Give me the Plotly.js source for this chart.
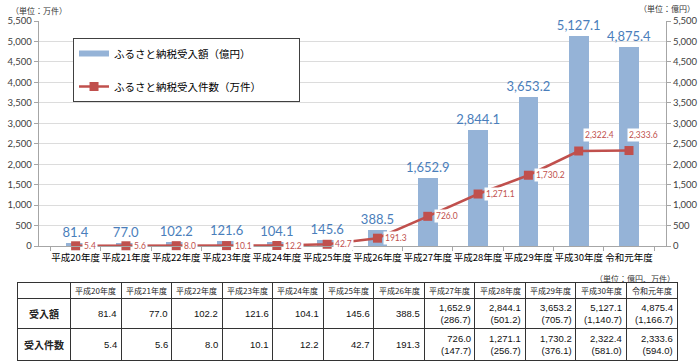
<!DOCTYPE html>
<html><head><meta charset="utf-8">
<script src="https://cdn.plot.ly/plotly-3.0.1.min.js"></script>
<style>html,body{margin:0;padding:0;background:#fff}#chart{width:700px;height:361px}</style>
</head><body><div id="chart"></div>
<script>
// ---- data ----
const categories = ['平成20年度','平成21年度','平成22年度','平成23年度','平成24年度','平成25年度','平成26年度','平成27年度','平成28年度','平成29年度','平成30年度','令和元年度'];
const donationAmount = [81.4, 77.0, 102.2, 121.6, 104.1, 145.6, 388.5, 1652.9, 2844.1, 3653.2, 5127.1, 4875.4];
const donationCount = [5.4, 5.6, 8.0, 10.1, 12.2, 42.7, 191.3, 726.0, 1271.1, 1730.2, 2322.4, 2333.6];
const amountSub = [null, null, null, null, null, null, null, 286.7, 501.2, 705.7, 1140.7, 1166.7];
const countSub = [null, null, null, null, null, null, null, 147.7, 256.7, 376.1, 581.0, 594.0];
const amountName = 'ふるさと納税受入額（億円）';
const countName = 'ふるさと納税受入件数（万件）';
const rowLabels = ['受入額', '受入件数'];

// ---- styles ----
const BAR = '#95b3d7', RED = '#c0504d', BLUE_TXT = '#4a7ebb';
const CJK = 'Noto Sans CJK JP', NUM = 'Lato', TNUM = 'Liberation Sans';
const fmt = v => v.toLocaleString('en-US', {minimumFractionDigits: 1, maximumFractionDigits: 1});
const pad = '\u00a0'.repeat(14);

const traces = [
  {type: 'bar', x: categories, y: donationAmount, name: amountName, width: 0.39,
   marker: {color: BAR}, text: donationAmount.map(fmt), textposition: 'outside',
   textfont: {family: NUM, size: 13, color: BLUE_TXT}, constraintext: 'none', cliponaxis: false,
   showlegend: false, xaxis: 'x', yaxis: 'y', hoverinfo: 'skip'},
  // legend swatch for bars
  {type: 'scatter', x: [null], y: [null], mode: 'lines', name: amountName + pad,
   line: {color: BAR, width: 6}, legendgroup: 'a', xaxis: 'x', yaxis: 'y'},
  {type: 'scatter', x: categories, y: donationCount, name: countName + pad, mode: 'lines+markers',
   line: {color: RED, width: 2.5}, marker: {symbol: 'square', size: 9, color: RED},
   legendgroup: 'b', cliponaxis: false, xaxis: 'x', yaxis: 'y2', hoverinfo: 'skip'}
];

const annotations = [];
donationCount.forEach((v, i) => {
  const last = i >= categories.length - 2;
  annotations.push({xref: 'x', yref: 'y2', x: categories[i], y: v, text: fmt(v),
    showarrow: false, xanchor: 'left', yanchor: last ? 'bottom' : 'middle',
    xshift: last ? (i === categories.length - 1 ? -2 : 4) : 6, yshift: last ? 9 : 0,
    bgcolor: '#ffffff', borderpad: 1, font: {family: NUM, size: 8.5, color: RED}});
});
// unit labels
annotations.push({xref: 'paper', yref: 'paper', x: -0.013, y: 1.032, xanchor: 'left', yanchor: 'middle',
  text: '（単位：万件）', showarrow: false, font: {family: CJK, size: 8, color: '#333'}});
annotations.push({xref: 'paper', yref: 'paper', x: 0.939, y: 1.038, xanchor: 'left', yanchor: 'middle',
  text: '（単位：億円）', showarrow: false, font: {family: CJK, size: 8, color: '#333'}});
annotations.push({xref: 'paper', yref: 'paper', x: 1, y: 0.244, xanchor: 'right', yanchor: 'middle',
  text: '（単位：億円、万件）', showarrow: false, font: {family: CJK, size: 8, color: '#333'}});

// table annotations (x3 = column index, y3 = row pixels)
const HDR_Y = 7.5, R1_Y = 30.25, R2_Y = 61;
categories.forEach((c, i) => {
  annotations.push({xref: 'x3', yref: 'y3', x: i + 0.5, y: HDR_Y, text: c, showarrow: false,
    font: {family: CJK, size: 8, color: '#222'}});
  const rows = [[donationAmount, amountSub, R1_Y], [donationCount, countSub, R2_Y]];
  rows.forEach(([vals, subs, yy]) => {
    const t = subs[i] == null ? fmt(vals[i]) : fmt(vals[i]) + '<br>(' + fmt(subs[i]) + ')';
    annotations.push({xref: 'x3', yref: 'y3', x: i + 1, y: yy, text: t, showarrow: false,
      xanchor: 'right', yanchor: 'middle', align: 'right', xshift: -2,
      font: {family: TNUM, size: 9.5, color: '#111'}});
  });
});
[[rowLabels[0], R1_Y], [rowLabels[1], R2_Y]].forEach(([t, yy]) => {
  annotations.push({xref: 'x3', yref: 'y3', x: -0.52, y: yy, text: t, showarrow: false,
    font: {family: CJK, size: 10, color: '#222', weight: 'bold'}});
});

const layout = {
  width: 700, height: 361, margin: {l: 18, r: 23, t: 21, b: 0},
  paper_bgcolor: '#fff', plot_bgcolor: 'rgba(0,0,0,0)',
  font: {family: CJK, color: '#333'},
  bargap: 0,
  xaxis: {type: 'category', domain: [0.0313, 0.9833], anchor: 'y', tickson: 'boundaries',
    ticks: 'outside', ticklen: 4, tickcolor: '#a6a6a6', showline: true, linecolor: '#a6a6a6',
    tickangle: 0, automargin: false, ticklabelstandoff: 3,
    showgrid: false, tickfont: {family: CJK, size: 9.5, color: '#000'}, fixedrange: true},
  yaxis: {domain: [0.3382, 1], range: [0, 5500], dtick: 500, tickformat: ',', anchor: 'x',
    showgrid: true, gridcolor: '#dcdcdc', zeroline: false, showline: true, linecolor: '#a6a6a6',
    ticks: 'outside', ticklen: 4, tickcolor: '#a6a6a6', tickfont: {family: NUM, size: 9.5, color: '#404040'}},
  yaxis2: {overlaying: 'y', side: 'right', range: [0, 5500], dtick: 500, tickformat: ',', anchor: 'x',
    showgrid: false, zeroline: false, showline: true, linecolor: '#a6a6a6',
    ticks: 'outside', ticklen: 4, tickcolor: '#a6a6a6', tickfont: {family: NUM, size: 9.5, color: '#404040'}},
  xaxis3: {domain: [0, 1], anchor: 'y3', range: [-1.04, 12], tickvals: [0,1,2,3,4,5,6,7,8,9,10,11],
    showticklabels: false, ticks: '', showgrid: true, gridcolor: '#333', gridwidth: 1, zeroline: false,
    showline: true, mirror: true, linecolor: '#333', linewidth: 1, fixedrange: true},
  yaxis3: {domain: [0.0044, 0.2294], anchor: 'x3', range: [76.5, 0], tickvals: [15, 45.5],
    showticklabels: false, ticks: '', showgrid: true, gridcolor: '#333', gridwidth: 1, zeroline: false,
    showline: true, mirror: true, linecolor: '#333', linewidth: 1, fixedrange: true},
  showlegend: true,
  legend: {x: 0.0835, y: 0.95, xanchor: 'left', yanchor: 'top', bgcolor: '#fff',
    bordercolor: '#404040', borderwidth: 1, tracegroupgap: 14, traceorder: 'grouped',
    font: {family: CJK, size: 10.5, color: '#000'}},
  annotations: annotations
};
Plotly.newPlot('chart', traces, layout, {displayModeBar: false, staticPlot: true});
</script></body></html>
